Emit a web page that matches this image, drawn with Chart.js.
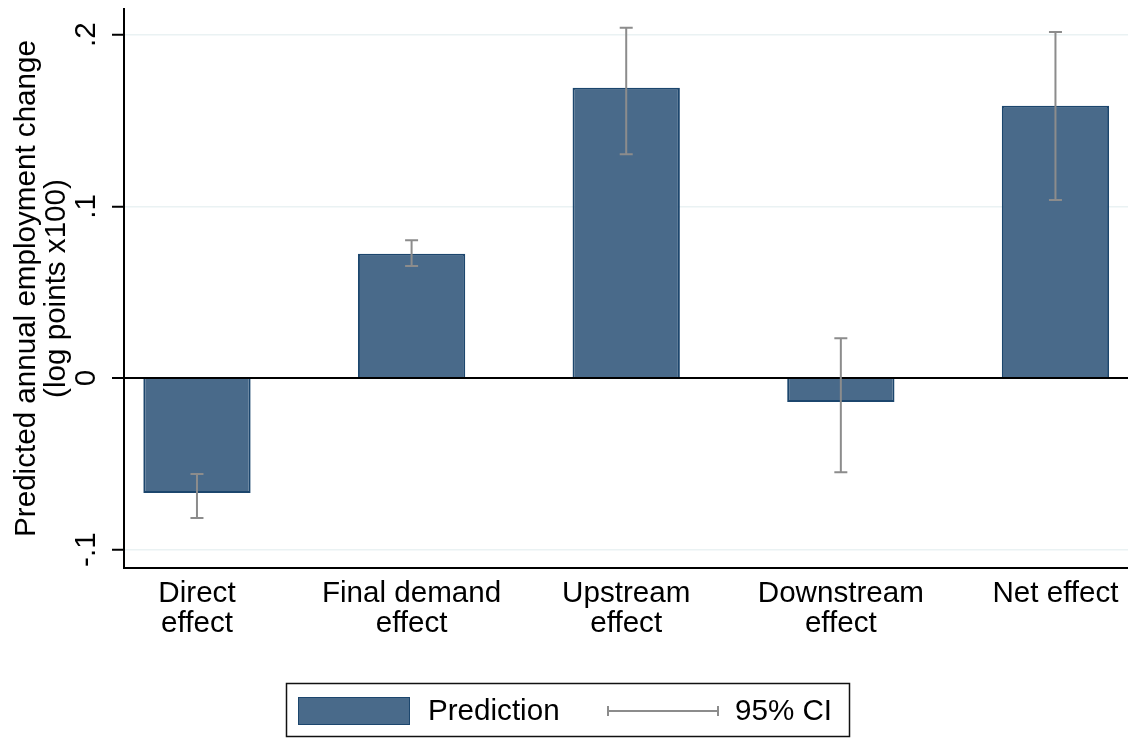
<!DOCTYPE html>
<html><head><meta charset="utf-8">
<script src="https://cdn.jsdelivr.net/npm/chart.js@4/dist/chart.umd.min.js"></script>
<style>html,body{margin:0;padding:0;background:#fff}#wrap{width:1128px;height:738px}</style>
</head><body><div id="wrap"><canvas id="c" width="1128" height="738"></canvas></div>
<script>
// ---- data ----
const categories = [["Direct","effect"],["Final demand","effect"],["Upstream","effect"],["Downstream","effect"],["Net effect"]];
const prediction = [-0.0670, 0.0724, 0.1691, -0.0140, 0.1586];
const ciLow      = [-0.0816, 0.0652, 0.1303, -0.0549, 0.1037];
const ciHigh     = [-0.0559, 0.0802, 0.2041, 0.0231, 0.2016];
const yTickValues = [-0.1, 0, 0.1, 0.2];
const yTickLabels = ["-.1", "0", ".1", ".2"];
const yTitle = ["Predicted annual employment change", "(log points x100)"];
const legendLabels = ["Prediction", "95% CI"];

// ---- styles ----
const FONT = "'Liberation Sans', Arial, sans-serif";
const FS = 29.6;
const BAR_FILL = '#496a8a';
const BAR_BORDER = '#1c466d';
const CI_COLOR = '#8c8c8c';
const GRID = '#eaf2f3';

const errorBarPlugin = {
  id: 'errorBars',
  afterDatasetsDraw(chart) {
    const ctx = chart.ctx, xs = chart.scales.x, ys = chart.scales.y;
    ctx.save();
    ctx.strokeStyle = CI_COLOR;
    ctx.lineWidth = 2;
    const cap = 6.5;
    ciLow.forEach((lo, i) => {
      const x = xs.getPixelForValue(i);
      const y1 = ys.getPixelForValue(lo), y2 = ys.getPixelForValue(ciHigh[i]);
      ctx.beginPath();
      ctx.moveTo(x, y1); ctx.lineTo(x, y2);
      ctx.moveTo(x - cap, y1); ctx.lineTo(x + cap, y1);
      ctx.moveTo(x - cap, y2); ctx.lineTo(x + cap, y2);
      ctx.stroke();
    });
    ctx.restore();
  }
};

const legendPlugin = {
  id: 'stataLegend',
  afterDraw(chart) {
    const ctx = chart.ctx;
    ctx.save();
    ctx.strokeStyle = '#111';
    ctx.lineWidth = 1.5;
    ctx.strokeRect(286.5, 683.5, 563, 53);
    ctx.fillStyle = BAR_FILL;
    ctx.fillRect(298, 697, 112, 28);
    ctx.strokeStyle = BAR_BORDER;
    ctx.lineWidth = 1;
    ctx.strokeRect(298.5, 697.5, 111, 27);
    ctx.strokeStyle = CI_COLOR;
    ctx.lineWidth = 2;
    ctx.beginPath();
    ctx.moveTo(607, 711); ctx.lineTo(719, 711);
    ctx.moveTo(608, 706); ctx.lineTo(608, 716);
    ctx.moveTo(718, 706); ctx.lineTo(718, 716);
    ctx.stroke();
    ctx.fillStyle = '#000';
    ctx.font = FS + 'px ' + FONT;
    ctx.textBaseline = 'middle';
    ctx.textAlign = 'left';
    ctx.fillText(legendLabels[0], 428, 712);
    ctx.fillText(legendLabels[1], 735, 712);
    ctx.restore();
  }
};

new Chart(document.getElementById('c'), {
  type: 'bar',
  data: {
    datasets: [{
      label: legendLabels[0],
      data: prediction.map((v, i) => ({x: i, y: v})),
      backgroundColor: BAR_FILL,
      borderColor: BAR_BORDER,
      borderWidth: 2,
      categoryPercentage: 1,
      barPercentage: 0.5
    }]
  },
  options: {
    responsive: false,
    animation: false,
    devicePixelRatio: 1,
    layout: {padding: {top: 9, right: 0, bottom: 0, left: 0}},
    plugins: {legend: {display: false}, tooltip: {enabled: false}},
    scales: {
      x: {
        type: 'linear',
        offset: false,
        min: -0.340, max: 4.338,
        afterBuildTicks: (s) => { s.ticks = categories.map((c, i) => ({value: i})); },
        afterFit: (s) => { s.height = 170; s.paddingLeft = 0; s.paddingRight = 0; },
        ticks: {
          callback: (v) => categories[v],
          color: '#000',
          font: {family: FONT, size: FS, lineHeight: 1.0},
          padding: 11,
          maxRotation: 0, minRotation: 0,
          autoSkip: false
        },
        grid: {drawOnChartArea: false, drawTicks: false},
        border: {display: true, color: '#000', width: 2}
      },
      y: {
        type: 'linear',
        min: -0.1107, max: 0.2150,
        afterBuildTicks: (s) => { s.ticks = yTickValues.map(v => ({value: v})); },
        afterFit: (s) => { s.width = 124; s.paddingTop = 0; s.paddingBottom = 0; },
        ticks: {
          callback: (v) => yTickLabels[yTickValues.indexOf(v)],
          color: '#000',
          font: {family: FONT, size: FS},
          padding: 8,
          minRotation: 90, maxRotation: 90,
          crossAlign: 'center'
        },
        grid: {
          color: (c) => (c.tick && c.tick.value === 0) ? '#000' : GRID,
          lineWidth: (c) => (c.tick && c.tick.value === 0) ? 2 : 1.5,
          tickColor: '#000',
          tickLength: 12,
          tickWidth: 2
        },
        border: {display: true, color: '#000', width: 2},
        title: {
          display: true,
          text: yTitle,
          color: '#000',
          font: {family: FONT, size: FS, lineHeight: 1.01},
          padding: {top: 11.5, bottom: 0}
        }
      }
    }
  },
  plugins: [errorBarPlugin, legendPlugin]
});
</script>
</body></html>
